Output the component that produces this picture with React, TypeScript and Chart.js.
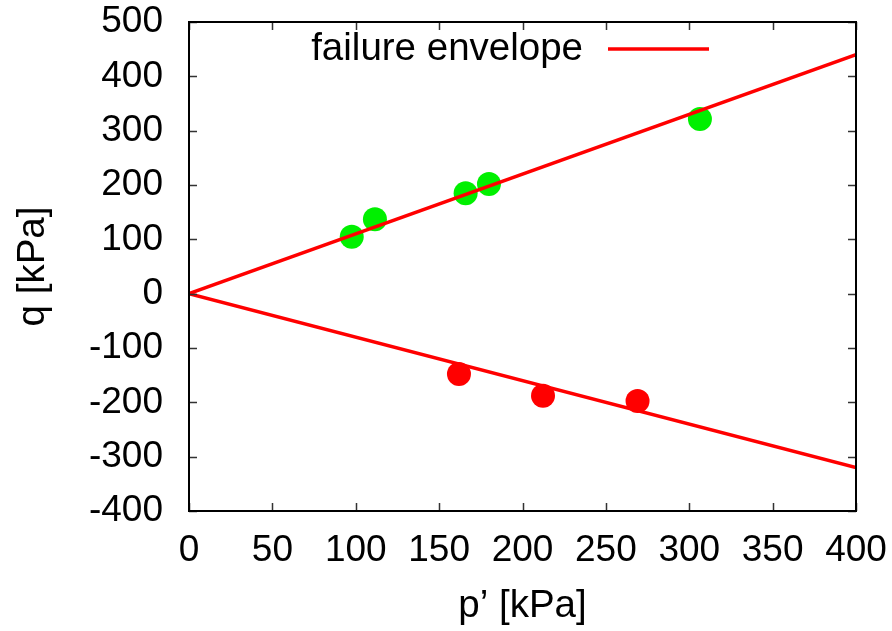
import React, { useEffect, useRef } from "react";
import { Chart, registerables } from "chart.js";

Chart.register(...registerables);

const xTicks = [0, 50, 100, 150, 200, 250, 300, 350, 400];
const yTicks = [-400, -300, -200, -100, 0, 100, 200, 300, 400, 500];

const compressionP = [97.6, 111.5, 165.9, 179.9, 306.4];
const compressionQ = [104.9, 136.9, 184.8, 201.9, 321.5];

const extensionP = [161.9, 212.3, 269.0];
const extensionQ = [-148, -188, -197.5];

const envelopeP = [0, 400];
const envelopeUpperQ = [0, 440];
const envelopeLowerQ = [0, -320];

const legendLabel = "failure envelope";
const xTitle = "p\u2019 [kPa]";
const yTitle = "q [kPa]";

const FONT = "'Liberation Sans', Arial, Helvetica, sans-serif";
const FS = 37;
const FS_TEXT = 38.5;

const frameTicks = {
  id: "frameTicks",
  afterDatasetsDraw(chart: any) {
    const { ctx, chartArea: a, scales } = chart;
    const xs = scales.x;
    const ys = scales.y;
    ctx.save();
    ctx.strokeStyle = "#333";
    ctx.lineWidth = 1.5;
    const tl = 8;
    ctx.beginPath();
    xTicks.forEach((v) => {
      const px = Math.round(xs.getPixelForValue(v)) + 0.5;
      ctx.moveTo(px, a.bottom);
      ctx.lineTo(px, a.bottom - tl);
      ctx.moveTo(px, a.top);
      ctx.lineTo(px, a.top + tl);
    });
    yTicks.forEach((v) => {
      const py = Math.round(ys.getPixelForValue(v)) + 0.5;
      ctx.moveTo(a.left, py);
      ctx.lineTo(a.left + tl, py);
      ctx.moveTo(a.right, py);
      ctx.lineTo(a.right - tl, py);
    });
    ctx.stroke();
    ctx.strokeStyle = "#000";
    ctx.lineWidth = 2;
    ctx.strokeRect(a.left, a.top, a.right - a.left, a.bottom - a.top);
    ctx.fillStyle = "#000";
    ctx.font = `${FS_TEXT}px ${FONT}`;
    ctx.textAlign = "right";
    ctx.textBaseline = "middle";
    ctx.fillText(legendLabel, 583, 49);
    ctx.strokeStyle = "#ff0000";
    ctx.lineWidth = 3.5;
    ctx.beginPath();
    ctx.moveTo(608, 49);
    ctx.lineTo(709, 49);
    ctx.stroke();
    ctx.restore();
  },
};

export default function App() {
  const ref = useRef<HTMLCanvasElement | null>(null);

  useEffect(() => {
    document.body.style.margin = "0";
    const canvas = ref.current;
    if (!canvas) return;
    const toPts = (xsArr: number[], ysArr: number[]) =>
      xsArr.map((x, i) => ({ x, y: ysArr[i] }));

    const chart = new Chart(canvas, {
      type: "scatter",
      data: {
        datasets: [
          {
            label: legendLabel,
            data: toPts(envelopeP, envelopeUpperQ),
            showLine: true,
            borderColor: "#ff0000",
            borderWidth: 3.5,
            pointRadius: 0,
            fill: false,
            order: 0,
          },
          {
            label: "lower",
            data: toPts(envelopeP, envelopeLowerQ),
            showLine: true,
            borderColor: "#ff0000",
            borderWidth: 3.5,
            pointRadius: 0,
            fill: false,
            order: 0,
          },
          {
            label: "compression",
            data: toPts(compressionP, compressionQ),
            backgroundColor: "#00f000",
            borderWidth: 0,
            pointRadius: 12,
            order: 1,
          },
          {
            label: "extension",
            data: toPts(extensionP, extensionQ),
            backgroundColor: "#ff0000",
            borderWidth: 0,
            pointRadius: 12,
            order: 1,
          },
        ],
      } as any,
      options: {
        responsive: false,
        animation: false,
        devicePixelRatio: 1,
        layout: { padding: { top: 22, right: 36, left: 0, bottom: 0 } },
        plugins: {
          legend: { display: false },
          tooltip: { enabled: false },
        },
        scales: {
          x: {
            type: "linear",
            min: 0,
            max: 400,
            afterBuildTicks: (s: any) => {
              s.ticks = xTicks.map((v) => ({ value: v }));
            },
            afterFit: (s: any) => {
              s.height = 120;
              s.paddingLeft = 0;
              s.paddingRight = 0;
            },
            grid: { display: false, drawTicks: false },
            border: { display: false },
            ticks: {
              color: "#000",
              padding: 18,
              maxRotation: 0,
              autoSkip: false,
              font: { family: FONT, size: FS },
            },
            title: {
              display: true,
              text: xTitle,
              color: "#000",
              font: { family: FONT, size: FS_TEXT },
              padding: { top: 0, bottom: 2 },
            },
          },
          y: {
            type: "linear",
            min: -400,
            max: 500,
            afterBuildTicks: (s: any) => {
              s.ticks = yTicks.map((v) => ({ value: v }));
            },
            afterFit: (s: any) => {
              s.width = 189;
              s.paddingTop = 0;
              s.paddingBottom = 0;
            },
            grid: { display: false, drawTicks: false },
            border: { display: false },
            ticks: {
              color: "#000",
              padding: 26,
              autoSkip: false,
              font: { family: FONT, size: FS },
            },
            title: {
              display: true,
              text: yTitle,
              color: "#000",
              font: { family: FONT, size: FS_TEXT },
              padding: { top: 10, bottom: 10 },
            },
          },
        },
      } as any,
      plugins: [frameTicks],
    });
    return () => chart.destroy();
  }, []);

  return (
    <div style={{ position: "absolute", left: 0, top: 0, width: 892, height: 631 }}>
      <canvas ref={ref} width={892} height={631} />
    </div>
  );
}
